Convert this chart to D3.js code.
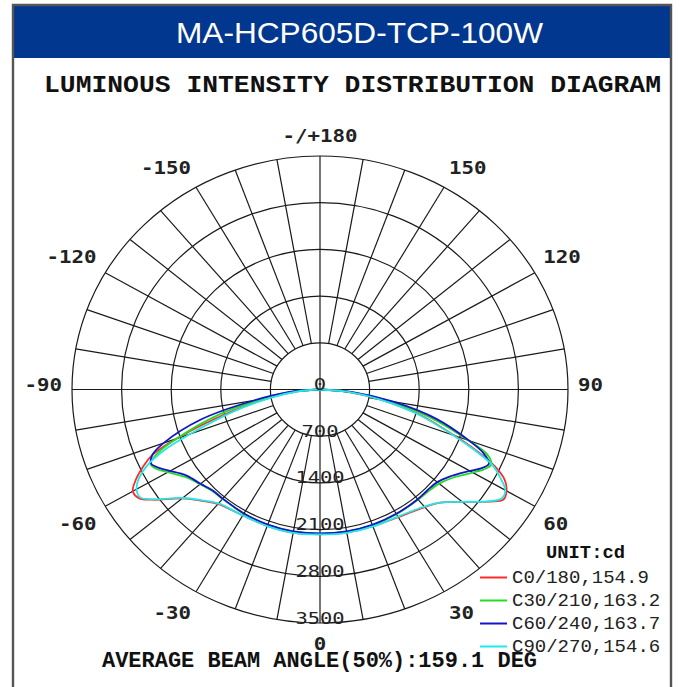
<!DOCTYPE html>
<html><head><meta charset="utf-8">
<script src="https://cdn.jsdelivr.net/npm/d3@7"></script>
<style>html,body{margin:0;padding:0;background:#fff;overflow:hidden}svg{display:block}</style>
</head><body>
<script>
// ---------- data ----------
const titleText = "MA-HCP605D-TCP-100W";
const subtitleText = "LUMINOUS INTENSITY DISTRIBUTION DIAGRAM";
const footerText = "AVERAGE BEAM ANGLE(50%):159.1 DEG";
const unitText = "UNIT:cd";
const ringValues = [0, 700, 1400, 2100, 2800, 3500];
const angleTicks = [-150, -120, -90, -60, -30, 0, 30, 60, 90, 120, 150, 180];
const angleTickLabels = ["-150", "-120", "-90", "-60", "-30", "0", "30", "60", "90", "120", "150", "-/+180"];
const seriesNames = ["C0/180,154.9", "C30/210,163.2", "C60/240,163.7", "C90/270,154.6"];
const seriesColors = ["#ff2a2a", "#22dd22", "#1515c8", "#22e8e8"];
const gammas = [-90,-85,-80,-75,-70,-67.5,-65,-62.5,-60,-57.5,-55,-50,-45,-40,-30,-20,-10,0,
                 10,20,30,40,45,50,55,57.5,60,62.5,65,67.5,70,75,80,85,90];
const c0 =  [0,320,720,1320,2150,2560,2760,2930,3050,3030,2880,2540,2360,2240,2180,2175,2178,2170,
             2175,2180,2210,2300,2400,2620,2930,3070,3040,2940,2720,2380,2020,1450,870,390,0];
const c30 = [0,380,850,1500,2150,2470,2640,2590,2480,2380,2295,2210,2150,2140,2150,2160,2162,2160,
             2162,2162,2158,2155,2160,2195,2300,2390,2490,2600,2665,2560,2230,1600,980,440,0];
const c60 = [0,450,950,1740,2350,2560,2630,2550,2440,2340,2270,2200,2140,2135,2145,2155,2158,2156,
             2158,2158,2152,2146,2140,2160,2260,2340,2440,2560,2630,2500,2240,1700,1050,480,0];
const c90 = [0,300,700,1250,1950,2380,2690,2880,2990,3010,2870,2530,2350,2230,2180,2178,2182,2172,
             2182,2185,2200,2290,2400,2620,2920,3040,3020,2870,2690,2350,2000,1430,850,380,0];
const seriesValues = [c0, c30, c60, c90];

// ---------- layout ----------
const W = 681, H = 687;
const cx = 320, cy = 389.5;
const rX = d3.scaleLinear().domain([0, 3500]).range([0, 248]);
const rY = d3.scaleLinear().domain([0, 3500]).range([0, 233.5]);
const rad = d => d * Math.PI / 180;
const pos = (g, v) => [cx + rX(v) * Math.sin(rad(g)), cy + rY(v) * Math.cos(rad(g))];
const mono = "'Courier New', 'Nimbus Mono PS', 'Nimbus Mono L', FreeMono, Courier, 'Liberation Mono', monospace";

const svg = d3.select("body").append("svg").attr("width", W).attr("height", H);
svg.append("rect").attr("width", W).attr("height", H).attr("fill", "#fff");

// frame + header
svg.append("rect").attr("x", 13).attr("y", 5).attr("width", 658).attr("height", 53).attr("fill", "#02378f");
svg.append("path").attr("d", "M13,700V5H671V700").attr("fill", "none").attr("stroke", "#555").attr("stroke-width", 2.4);
svg.append("text").attr("x", 176).attr("y", 43).attr("fill", "#fff")
  .attr("font-family", "'Liberation Sans', Arial, sans-serif").attr("font-size", 29)
  .attr("textLength", 367).attr("lengthAdjust", "spacingAndGlyphs").text(titleText);
svg.append("text").attr("x", 44).attr("y", 92).attr("fill", "#111")
  .attr("font-family", mono).attr("font-size", 24).attr("font-weight", "bold")
  .attr("textLength", 617).attr("lengthAdjust", "spacingAndGlyphs").text(subtitleText);

// grid
const grid = svg.append("g").attr("stroke", "#1a1a1a").attr("stroke-width", 1.2).attr("fill", "none");
ringValues.filter(v => v > 0).forEach(v => {
  grid.append("ellipse").attr("cx", cx).attr("cy", cy).attr("rx", rX(v)).attr("ry", rY(v));
});
d3.range(-170, 181, 10).forEach(a => {
  const inner = (a % 90 === 0) ? 0 : 700;
  const p0 = pos(a, inner), p1 = pos(a, 3500);
  grid.append("line").attr("x1", p0[0]).attr("y1", p0[1]).attr("x2", p1[0]).attr("y2", p1[1]);
});

// curves
const line = d3.line().curve(d3.curveCatmullRom.alpha(0.5));
seriesValues.forEach((vals, i) => {
  const pts = gammas.map((g, j) => pos(g, vals[j]));
  svg.append("path").attr("d", line(pts)).attr("fill", "none")
    .attr("stroke", seriesColors[i]).attr("stroke-width", 1.8).attr("stroke-linejoin", "round");
});

// ring labels
svg.append("g").selectAll("text").data(ringValues).join("text")
  .attr("x", cx).attr("y", v => cy + rY(v) + 0.5)
  .attr("text-anchor", "middle").attr("fill", "#222")
  .attr("font-family", "'DejaVu Sans Mono', monospace").attr("font-size", 15)
  .attr("textLength", v => String(v).length * 12.3).attr("lengthAdjust", "spacingAndGlyphs")
  .text(v => v);

// angle labels
svg.append("g").selectAll("text").data(angleTicks).join("text")
  .each(function(a, i) {
    const x = cx + rX(3500) * 1.04 * Math.sin(rad(a));
    const y0 = cy + rY(3500) * 1.04 * Math.cos(rad(a));
    const abs = Math.abs(a);
    const y = abs > 90 ? y0 - 5 : (abs === 90 ? y0 + 1 : (a === 0 ? y0 + 17.5 : y0 + 19));
    const anchor = (a === 0 || a === 180) ? "middle" : (a > 0 ? "start" : "end");
    d3.select(this).attr("x", x).attr("y", y).attr("text-anchor", anchor)
      .attr("textLength", angleTickLabels[i].length * 12.5).attr("lengthAdjust", "spacingAndGlyphs")
      .text(angleTickLabels[i]);
  })
  .attr("fill", "#222").attr("font-family", "'DejaVu Sans Mono', monospace")
  .attr("font-size", 17).attr("font-weight", "bold");

// legend
svg.append("text").attr("x", 546).attr("y", 558).attr("fill", "#111")
  .attr("font-family", mono).attr("font-size", 19).attr("font-weight", "bold")
  .attr("textLength", 79).attr("lengthAdjust", "spacingAndGlyphs").text(unitText);
const leg = svg.append("g").selectAll("g").data(seriesNames).join("g")
  .attr("transform", (d, i) => `translate(0,${577.5 + i * 23})`);
leg.append("line").attr("x1", 480).attr("x2", 507).attr("y1", 0).attr("y2", 0)
  .attr("stroke", (d, i) => seriesColors[i]).attr("stroke-width", 2);
leg.append("text").attr("x", 512).attr("y", 5.5).attr("fill", "#222")
  .attr("font-family", mono).attr("font-size", 19)
  .attr("textLength", d => d.length * 11.4).attr("lengthAdjust", "spacingAndGlyphs").text(d => d);

// footer
svg.append("text").attr("x", 102).attr("y", 667).attr("fill", "#111")
  .attr("font-family", mono).attr("font-size", 22).attr("font-weight", "bold")
  .attr("textLength", 435).attr("lengthAdjust", "spacingAndGlyphs").text(footerText);
</script>
</body></html>
